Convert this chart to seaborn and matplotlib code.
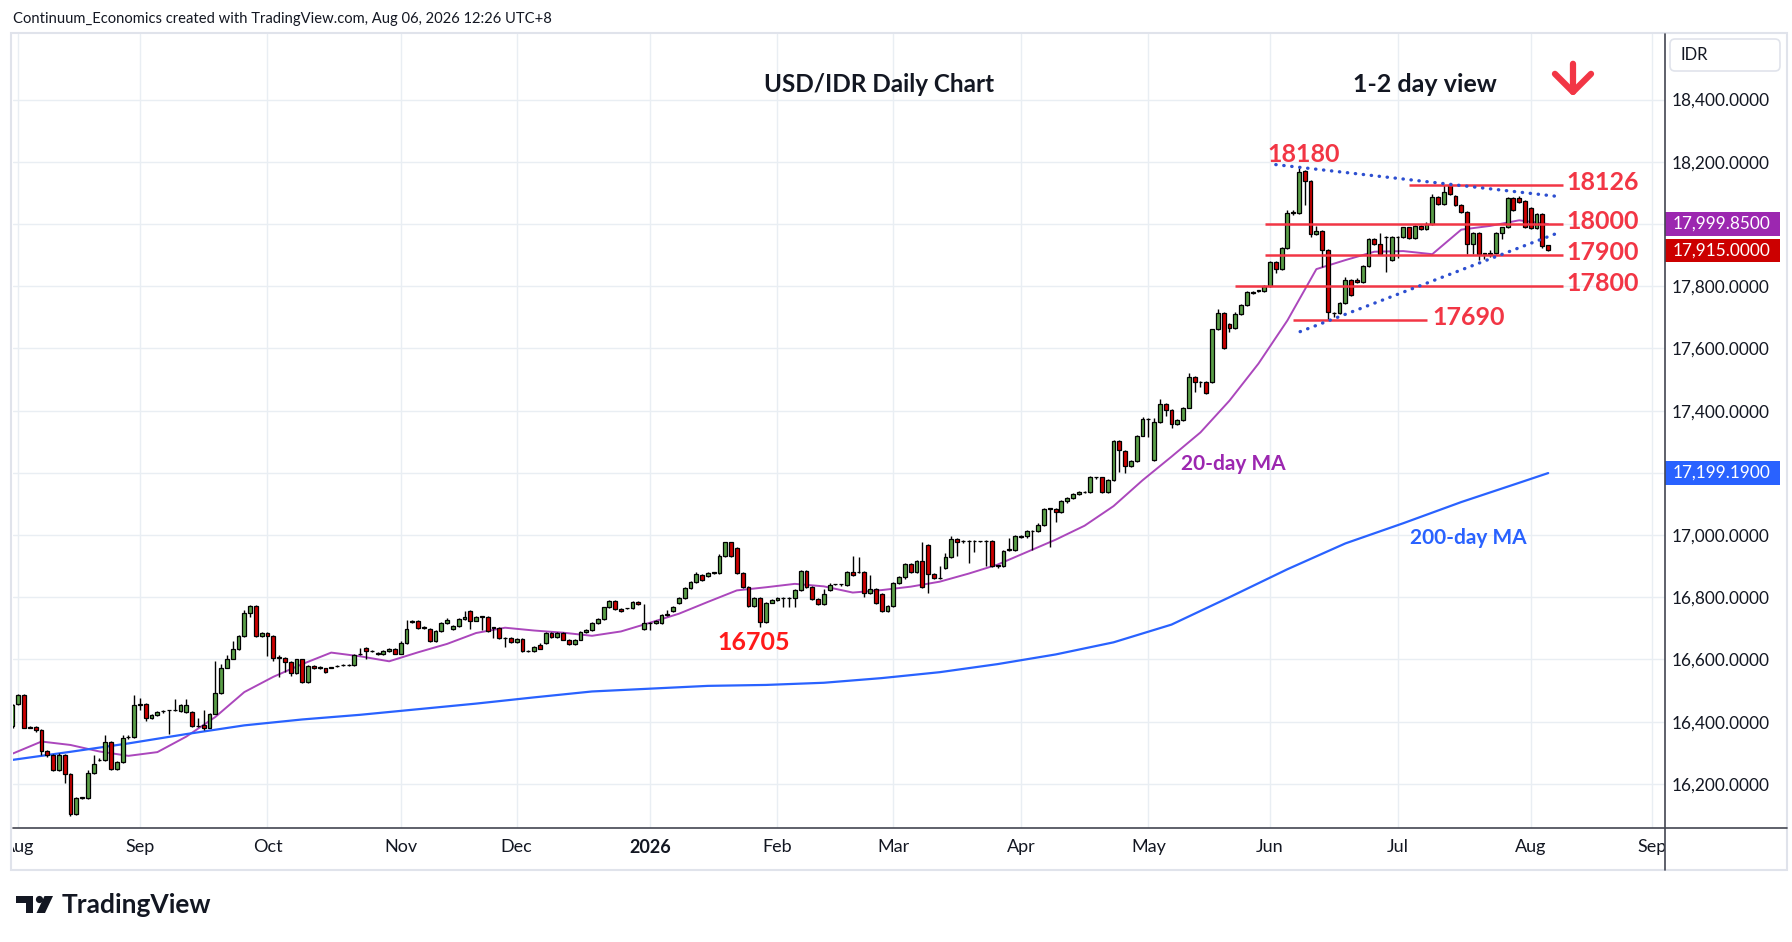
import matplotlib
matplotlib.use("Agg")
import matplotlib.pyplot as plt
import matplotlib.patches as mpatches
import matplotlib.transforms as mtransforms
from matplotlib.lines import Line2D
import seaborn as sns
import pandas as pd
import numpy as np

# ---- data ----
dates = pd.bdate_range("2025-07-31", "2026-08-06")

opens = [
    16385, 16456, 16487, 16383, 16383, 16374, 16306, 16294, 16245, 16292,
    16232, 16103, 16155, 16155, 16234, 16276, 16277, 16334, 16248, 16271,
    16350, 16350, 16455, 16456, 16413, 16420, 16434, 16436, 16436, 16434,
    16432, 16432, 16386, 16388, 16381, 16426, 16493, 16574, 16603, 16632,
    16674, 16748, 16772, 16674, 16686, 16674, 16606, 16606, 16592, 16555,
    16600, 16528, 16578, 16574, 16571, 16574, 16578, 16582, 16582, 16582,
    16617, 16638, 16626, 16622, 16617, 16627, 16635, 16619, 16652, 16719,
    16725, 16702, 16699, 16660, 16692, 16716, 16697, 16707, 16729, 16755,
    16725, 16738, 16738, 16702, 16702, 16668, 16668, 16655, 16665, 16626,
    16626, 16645, 16652, 16684, 16671, 16684, 16664, 16649, 16664, 16687,
    16694, 16716, 16729, 16767, 16788, 16761, 16764, 16764, 16785, 16698,
    16716, 16716, 16718, 16743, 16757, 16780, 16797, 16829, 16848, 16871,
    16869, 16879, 16879, 16933, 16976, 16958, 16879, 16832, 16772, 16797,
    16720, 16783, 16791, 16797, 16797, 16797, 16823, 16883, 16832, 16793,
    16777, 16824, 16841, 16841, 16838, 16880, 16880, 16880, 16813, 16826,
    16811, 16756, 16773, 16845, 16864, 16907, 16880, 16917, 16968, 16874,
    16861, 16893, 16929, 16987, 16980, 16980, 16980, 16980, 16980, 16980,
    16901, 16901, 16952, 16952, 16994, 16996, 17013, 17013, 17032, 17085,
    17085, 17075, 17109, 17118, 17131, 17138, 17138, 17185, 17185, 17138,
    17176, 17303, 17271, 17222, 17239, 17320, 17372, 17241, 17362, 17420,
    17402, 17356, 17369, 17410, 17509, 17491, 17491, 17491, 17661, 17714,
    17680, 17667, 17712, 17739, 17782, 17785, 17785, 17800, 17878, 17856,
    17924, 18037, 18035, 18172, 18139, 17967, 17977, 17916, 17713, 17713,
    17746, 17821, 17821, 17813, 17864, 17951, 17937, 17957, 17883, 17957,
    17957, 17989, 17954, 17995, 17983, 18000, 18086, 18064, 18124, 18091,
    18061, 18038, 17937, 17970, 17905, 17905, 17907, 17970, 17989, 18083,
    18083, 18075, 18053, 17986, 18032, 17931,
]
highs = [
    16458, 16490, 16490, 16386, 16386, 16377, 16308, 16297, 16299, 16295,
    16235, 16157, 16158, 16243, 16292, 16282, 16356, 16337, 16274, 16356,
    16357, 16487, 16475, 16459, 16423, 16433, 16437, 16438, 16472, 16458,
    16472, 16435, 16413, 16436, 16429, 16595, 16585, 16614, 16660, 16677,
    16760, 16775, 16775, 16689, 16689, 16677, 16614, 16609, 16595, 16603,
    16603, 16581, 16581, 16580, 16574, 16577, 16582, 16584, 16584, 16616,
    16638, 16641, 16629, 16625, 16630, 16638, 16638, 16660, 16727, 16728,
    16728, 16706, 16702, 16695, 16719, 16732, 16710, 16732, 16757, 16758,
    16741, 16741, 16741, 16705, 16705, 16671, 16671, 16668, 16668, 16629,
    16644, 16654, 16689, 16687, 16687, 16687, 16667, 16667, 16691, 16697,
    16719, 16732, 16770, 16791, 16791, 16764, 16766, 16789, 16788, 16778,
    16719, 16727, 16745, 16759, 16773, 16800, 16832, 16851, 16880, 16874,
    16882, 16882, 16938, 16979, 16979, 16961, 16882, 16835, 16800, 16800,
    16786, 16794, 16802, 16800, 16800, 16826, 16886, 16886, 16835, 16796,
    16826, 16845, 16843, 16843, 16885, 16931, 16929, 16883, 16871, 16829,
    16814, 16776, 16848, 16867, 16910, 16910, 16920, 16977, 16971, 16877,
    16901, 16942, 16996, 16990, 16983, 16983, 16983, 16982, 16983, 16983,
    16904, 16953, 16990, 16999, 17000, 17016, 17016, 17040, 17088, 17088,
    17088, 17112, 17121, 17134, 17141, 17140, 17191, 17188, 17188, 17179,
    17306, 17306, 17274, 17242, 17323, 17380, 17375, 17375, 17436, 17423,
    17405, 17372, 17413, 17520, 17512, 17494, 17494, 17664, 17728, 17717,
    17683, 17716, 17742, 17785, 17785, 17788, 17805, 17880, 17881, 17927,
    18045, 18045, 18180, 18175, 18142, 17995, 17980, 17919, 17716, 17749,
    17830, 17824, 17827, 17867, 17956, 17954, 17970, 17960, 17960, 17960,
    17992, 17992, 17998, 17998, 18008, 18096, 18089, 18126, 18126, 18094,
    18064, 18041, 17973, 17973, 17908, 17916, 17973, 17992, 18086, 18086,
    18091, 18078, 18056, 18035, 18035, 17934,
]
lows = [
    16380, 16452, 16378, 16378, 16366, 16294, 16286, 16242, 16242, 16202,
    16096, 16100, 16152, 16152, 16231, 16273, 16274, 16245, 16245, 16268,
    16344, 16347, 16437, 16402, 16410, 16417, 16428, 16359, 16433, 16431,
    16429, 16383, 16383, 16372, 16378, 16423, 16490, 16571, 16600, 16629,
    16671, 16737, 16671, 16671, 16612, 16595, 16542, 16560, 16547, 16552,
    16525, 16525, 16570, 16568, 16557, 16571, 16575, 16580, 16580, 16579,
    16614, 16603, 16623, 16614, 16614, 16624, 16616, 16616, 16649, 16716,
    16697, 16699, 16657, 16657, 16689, 16713, 16694, 16704, 16726, 16699,
    16722, 16694, 16687, 16668, 16665, 16641, 16652, 16652, 16623, 16623,
    16623, 16632, 16649, 16668, 16668, 16661, 16646, 16646, 16661, 16684,
    16691, 16713, 16726, 16764, 16758, 16753, 16762, 16761, 16775, 16694,
    16694, 16713, 16715, 16740, 16754, 16777, 16794, 16826, 16845, 16851,
    16866, 16876, 16876, 16930, 16930, 16876, 16829, 16769, 16769, 16705,
    16717, 16780, 16788, 16768, 16770, 16768, 16820, 16831, 16790, 16774,
    16774, 16821, 16839, 16836, 16835, 16868, 16877, 16802, 16810, 16778,
    16753, 16753, 16770, 16842, 16858, 16877, 16877, 16829, 16815, 16858,
    16858, 16890, 16926, 16934, 16974, 16910, 16945, 16978, 16901, 16898,
    16893, 16898, 16949, 16949, 16990, 16990, 16951, 17010, 17029, 16962,
    17043, 17072, 17102, 17115, 17128, 17136, 17135, 17179, 17135, 17135,
    17173, 17203, 17198, 17219, 17236, 17317, 17316, 17238, 17359, 17383,
    17343, 17353, 17366, 17407, 17461, 17475, 17455, 17488, 17658, 17597,
    17653, 17664, 17709, 17736, 17774, 17782, 17782, 17797, 17843, 17853,
    17921, 18030, 18032, 18062, 17957, 17964, 17862, 17690, 17700, 17710,
    17743, 17770, 17810, 17810, 17861, 17934, 17902, 17846, 17880, 17892,
    17954, 17951, 17951, 17980, 17980, 17997, 18061, 18061, 18093, 18058,
    18035, 17905, 17905, 17883, 17889, 17893, 17904, 17951, 17986, 18042,
    18069, 17986, 17983, 17983, 17924, 17912,
]
closes = [
    16455, 16487, 16381, 16381, 16374, 16305, 16294, 16245, 16292, 16232,
    16103, 16155, 16155, 16234, 16264, 16277, 16334, 16248, 16271, 16348,
    16350, 16455, 16456, 16413, 16420, 16430, 16434, 16436, 16436, 16455,
    16455, 16386, 16386, 16381, 16426, 16493, 16574, 16603, 16632, 16674,
    16748, 16772, 16674, 16686, 16674, 16606, 16606, 16592, 16555, 16600,
    16528, 16578, 16573, 16574, 16560, 16574, 16578, 16582, 16582, 16613,
    16617, 16626, 16626, 16617, 16627, 16635, 16619, 16652, 16697, 16725,
    16702, 16702, 16660, 16692, 16716, 16726, 16707, 16729, 16735, 16725,
    16738, 16738, 16690, 16702, 16668, 16668, 16655, 16665, 16626, 16626,
    16641, 16635, 16684, 16671, 16684, 16664, 16649, 16664, 16687, 16694,
    16716, 16729, 16767, 16788, 16761, 16756, 16764, 16785, 16778, 16716,
    16716, 16724, 16742, 16743, 16770, 16797, 16829, 16848, 16875, 16854,
    16879, 16879, 16933, 16976, 16933, 16879, 16832, 16772, 16797, 16720,
    16783, 16791, 16797, 16797, 16797, 16823, 16883, 16834, 16793, 16777,
    16810, 16839, 16841, 16841, 16880, 16871, 16880, 16813, 16826, 16781,
    16756, 16773, 16845, 16864, 16907, 16880, 16917, 16832, 16874, 16861,
    16861, 16929, 16987, 16978, 16980, 16980, 16980, 16980, 16980, 16901,
    16901, 16950, 16952, 16996, 16994, 17013, 17013, 17032, 17085, 17085,
    17075, 17109, 17118, 17131, 17138, 17138, 17185, 17185, 17138, 17176,
    17303, 17273, 17222, 17239, 17320, 17372, 17372, 17362, 17420, 17402,
    17356, 17369, 17410, 17509, 17491, 17491, 17458, 17661, 17714, 17600,
    17667, 17712, 17739, 17782, 17777, 17785, 17800, 17878, 17856, 17924,
    18035, 18037, 18167, 18139, 17967, 17977, 17916, 17716, 17713, 17746,
    17821, 17773, 17813, 17864, 17951, 17937, 17905, 17957, 17957, 17957,
    17989, 17954, 17995, 17983, 18000, 18086, 18064, 18103, 18096, 18061,
    18038, 17937, 17970, 17905, 17905, 17905, 17970, 17989, 18083, 18045,
    18072, 17989, 17986, 18032, 17929, 17915,
]

# moving averages, sampled every 5 (20-day) and every 10 (200-day) sessions
ma20 = [
    16297, 16336, 16325, 16304, 16290, 16302, 16352, 16415, 16495, 16544,
    16585, 16622, 16610, 16594, 16623, 16650, 16685, 16702, 16693, 16686,
    16676, 16690, 16718, 16747, 16785, 16822, 16832, 16843, 16835, 16815,
    16823, 16834, 16850, 16876, 16905, 16945, 16985, 17030, 17093, 17176,
    17252, 17330, 17432, 17551, 17690, 17855, 17884, 17911, 17913, 17903,
    17982, 17994, 18012, 17999.85,
]
ma200 = [
    16277, 16303, 16330, 16360, 16388, 16407, 16422, 16440, 16458, 16478,
    16497, 16506, 16515, 16518, 16525, 16540, 16559, 16585, 16616, 16655,
    16712, 16800, 16890, 16973, 17038, 17106, 17168, 17199.19,
]

levels = [18126, 18000, 17900, 17800, 17690]
level_labels = ["18126", "18000", "17900", "17800", "17690"]
price_ticks = list(range(16200, 18401, 200))

df = pd.DataFrame({"open": opens, "high": highs, "low": lows, "close": closes}, index=dates)
df["pos"] = np.arange(len(df))
ma20_df = pd.DataFrame({"pos": df["pos"].values[::5], "ma": ma20})
ma200_df = pd.DataFrame({"pos": list(df["pos"].values[::10]) + [df["pos"].values[-1]], "ma": ma200})

# ---- style ----
sns.set_style("white")
plt.rcParams["font.family"] = ["Lato", "DejaVu Sans"]

UP, DOWN = "#5a9e48", "#cc0000"
RED_TXT = "#f23645"
PURPLE, BLUE = "#9c27b0", "#2962ff"
INK = "#131722"

W, H = 1792, 942
fig = plt.figure(figsize=(W / 100, H / 100), dpi=100)
px = mtransforms.IdentityTransform()


def fig_box(x0, y0, x1, y1):
    # pixel box (top-left origin) -> figure fraction rect
    return [x0 / W, 1 - y1 / H, (x1 - x0) / W, (y1 - y0) / H]


ax = fig.add_axes(fig_box(13, 34, 1665, 828))
ax_date = fig.add_axes(fig_box(13, 828, 1665, 868), sharex=ax)

# candles
is_up = df["close"] >= df["open"]
body_low = df[["open", "close"]].min(axis=1)
body_h = (df["close"] - df["open"]).abs().clip(lower=1.5)
ax.vlines(df["pos"], df["low"], df["high"], color="black", linewidth=1.0, zorder=3)
ax.bar(df["pos"], body_h, bottom=body_low, width=0.66,
       color=np.where(is_up, UP, DOWN), edgecolor="black", linewidth=0.9, zorder=4)

# moving averages
sns.lineplot(data=ma20_df, x="pos", y="ma", ax=ax, color="#ab47bc", linewidth=1.4, zorder=2)
sns.lineplot(data=ma200_df, x="pos", y="ma", ax=ax, color=BLUE, linewidth=1.6, zorder=2)

# support / resistance levels
level_start = [241.0, 216.1, 216.1, 210.9, 220.9]
level_end = [267.5, 267.5, 267.5, 267.5, 244.1]
for lv, lab, x0, x1 in zip(levels, level_labels, level_start, level_end):
    ax.hlines(lv, x0, x1, color=RED_TXT, linewidth=1.8, zorder=5)
    lx = 245.1 if lv == 17690 else 268.2
    ax.text(lx, lv + 8, lab, color=RED_TXT, fontsize=18, fontweight="bold",
            va="center", ha="left", zorder=6)

# triangle trendlines
dot = dict(color="#2d4fd0", linewidth=2.4, linestyle=(0, (0.1, 2.3)),
           dash_capstyle="round", zorder=5)
ax.plot([218.0, 266.5], [18191, 18089], **dot)
ax.plot([222.2, 266.2], [17654, 17968], **dot)

ax.text(222.8, 18223, "18180", color=RED_TXT, fontsize=18, fontweight="bold",
        ha="center", va="center", zorder=6)
ax.text(127.9, 16656, "16705", color="#ff1a1a", fontsize=18, fontweight="bold",
        ha="center", va="center", zorder=6)
ax.text(201.7, 17230, "20-day MA", color=PURPLE, fontsize=15, fontweight="bold",
        ha="left", va="center", zorder=6)
ax.text(241.1, 16990, "200-day MA", color=BLUE, fontsize=15, fontweight="bold",
        ha="left", va="center", zorder=6)

ax.text(0.5242, 0.9358, "USD/IDR Daily Chart", transform=ax.transAxes, fontsize=17.5,
        fontweight="bold", color=INK, ha="center", va="center")
ax.text(0.8547, 0.9358, "1-2 day view", transform=ax.transAxes, fontsize=18,
        fontweight="bold", color=INK, ha="center", va="center")
ax.annotate("", xy=(0.9443, 0.918), xytext=(0.9443, 0.966), xycoords="axes fraction",
            arrowprops=dict(arrowstyle="->,head_length=1.3,head_width=1.3",
                            mutation_scale=10, lw=4.5, color=RED_TXT))

# axes, grid
all_days = pd.bdate_range("2025-07-31", "2026-09-30")
month_pos = [i for i in range(1, len(all_days)) if all_days[i].month != all_days[i - 1].month]
ax.set_xlim(0.085, 285.16)
ax.set_ylim(16058, 18611)
ax.set_xticks(month_pos)
ax.set_yticks(price_ticks)
ax.yaxis.tick_right()
# 18,000 and 17,200 sit under the value tags, as in TradingView
ax.set_yticklabels(["" if v in (18000, 17200) else f"{v:,.4f}" for v in price_ticks])
ax.tick_params(axis="x", length=0, labelbottom=False)
ax.tick_params(axis="y", length=0, pad=5, labelsize=12.4, labelcolor=INK)
ax.grid(True, color="#e9eef3", linewidth=1.0)
ax.set_axisbelow(True)
ax.set_xlabel("")
ax.set_ylabel("")
for s in ax.spines.values():
    s.set_visible(False)

ax_date.set_ylim(0, 1)
ax_date.axis("off")
for p in month_pos:
    d = all_days[p]
    lab = "2026" if d.month == 1 else d.strftime("%b")
    ax_date.text(p, 0.52, lab, ha="center", va="center", fontsize=13, color=INK,
                 fontweight="bold" if d.month == 1 else "normal", clip_on=True)

# last-value tags on the price scale
tag_tr = mtransforms.blended_transform_factory(ax.transAxes, ax.transData)
tag_w = (1780 - 1665) / 1652
for val, col in [(ma20[-1], PURPLE), (closes[-1], DOWN), (ma200[-1], BLUE)]:
    ax.add_patch(mpatches.Rectangle((1.0, val - 38), tag_w, 76, transform=tag_tr,
                                    facecolor=col, edgecolor="none", clip_on=False, zorder=10))
    ax.text(1.0048, val, f"{val:,.4f}", transform=tag_tr, color="white", fontsize=12.4,
            va="center", ha="left", clip_on=False, zorder=11)

# frame and scale borders (pixel coords, origin bottom-left)
fig.add_artist(mpatches.Rectangle((11, H - 870), 1776, 837, transform=px, fill=False,
                                  edgecolor="#e0e3eb", linewidth=1.5))
fig.add_artist(Line2D([1665, 1665], [H - 34, H - 870], transform=px, color="#434651", lw=1.2))
fig.add_artist(Line2D([13, 1787], [H - 828, H - 828], transform=px, color="#434651", lw=1.2))
fig.add_artist(mpatches.FancyBboxPatch((1670, H - 71), 110, 32, transform=px,
                                       boxstyle="round,pad=0,rounding_size=5",
                                       facecolor="white", edgecolor="#e0e3eb", lw=1.2))
fig.text(1680 / W, 1 - 55 / H, "IDR", fontsize=12, color=INK, va="center")

fig.text(13 / W, 1 - 19 / H,
         "Continuum_Economics created with TradingView.com, Aug 06, 2026 12:26 UTC+8",
         fontsize=10.65, color=INK, va="center")

# TradingView logo
fig.add_artist(mpatches.Rectangle((16, H - 902.5), 17, 6.5, transform=px, color=INK, lw=0))
fig.add_artist(mpatches.Rectangle((26, H - 913), 7, 17, transform=px, color=INK, lw=0))
fig.add_artist(mpatches.Circle((39.5, H - 899.5), 3.6, transform=px, color=INK, lw=0))
fig.add_artist(mpatches.Polygon([(44.5, H - 896), (53, H - 896), (45, H - 913), (36.5, H - 913)],
                                closed=True, transform=px, color=INK, lw=0))
fig.text(62 / W, 1 - 905 / H, "TradingView", fontsize=19, fontweight="bold", color=INK, va="center")

fig.savefig("out.png", dpi=100)
